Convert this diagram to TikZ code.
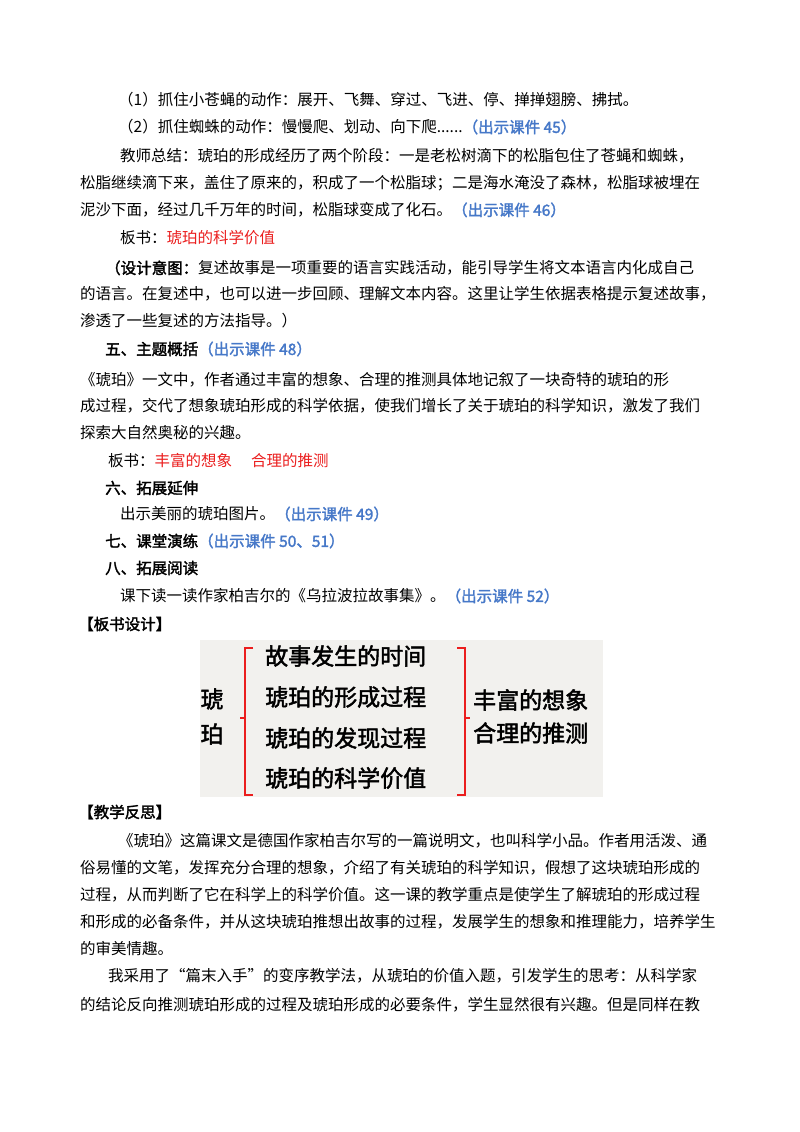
\documentclass[tikz,border=0pt]{standalone}
\usepackage{fontspec}
\setmainfont{Liberation Serif}
\newfontfamily\cjk{Noto Sans CJK SC}
\newfontfamily\cjkb[FakeBold=2]{Noto Sans CJK SC}
\definecolor{bl}{RGB}{70,120,200}
\definecolor{rd}{RGB}{235,30,30}
\definecolor{bg}{RGB}{242,241,238}
\newcommand{\kj}[1]{\textcolor{bl}{\cjkb #1}}
\begin{document}
\begin{tikzpicture}[x=1pt,y=-1pt,
  t/.style={anchor=west,inner sep=0pt,font=\cjk\fontsize{15.5}{16}\selectfont},
  bd/.style={anchor=center,inner sep=0pt,font=\cjkb\fontsize{23}{24}\selectfont},
  br/.style={draw=rd,line width=1.3pt}]
\useasboundingbox[fill=white] (0,0) rectangle (800,1132);
\node[t] (l1) at (118,100) {（1）抓住小苍蝇的动作：展开、飞舞、穿过、飞进、停、掸掸翅膀、拂拭。};
\node[t] (l2) at (118,127) {（2）抓住蜘蛛的动作：慢慢爬、划动、向下爬......\kj{（出示课件 45）}};
\node[t] (l3) at (120,156) {教师总结：琥珀的形成经历了两个阶段：一是老松树滴下的松脂包住了苍蝇和蜘蛛，};
\node[t] (l4) at (80,183) {松脂继续滴下来，盖住了原来的，积成了一个松脂球；二是海水淹没了森林，松脂球被埋在};
\node[t] (l5) at (80,210) {泥沙下面，经过几千万年的时间，松脂球变成了化石。\kj{（出示课件 46）}};
\node[t] (l6) at (120,238) {板书：\textcolor{rd}{琥珀的科学价值}};
\node[t] (l7) at (105,268) {{\cjkb （设计意图：}复述故事是一项重要的语言实践活动，能引导学生将文本语言内化成自己};
\node[t] (l8) at (80,294) {的语言。在复述中，也可以进一步回顾、理解文本内容。这里让学生依据表格提示复述故事，};
\node[t] (l9) at (80,321) {渗透了一些复述的方法指导。）};
\node[t] (l10) at (105,349) {{\cjkb 五、主题概括}\kj{（出示课件 48）}};
\node[t] (l11) at (80,380) {《琥珀》一文中，作者通过丰富的想象、合理的推测具体地记叙了一块奇特的琥珀的形};
\node[t] (l12) at (80,406) {成过程，交代了想象琥珀形成的科学依据，使我们增长了关于琥珀的科学知识，激发了我们};
\node[t] (l13) at (80,433) {探索大自然奥秘的兴趣。};
\node[t] (l14) at (108,461) {板书：\textcolor{rd}{丰富的想象\quad\ 合理的推测}};
\node[t] (l15) at (105,488) {{\cjkb 六、拓展延伸}};
\node[t] (l16) at (120,514) {出示美丽的琥珀图片。\kj{（出示课件 49）}};
\node[t] (l17) at (105,541) {{\cjkb 七、课堂演练}\kj{（出示课件 50、51）}};
\node[t] (l18) at (105,568) {{\cjkb 八、拓展阅读}};
\node[t] (l19) at (120,596) {课下读一读作家柏吉尔的《乌拉波拉故事集》。\kj{（出示课件 52）}};
\node[t] (l20) at (78,624) {{\cjkb 【板书设计】}};
% board
\fill[bg] (200,640) rectangle (603,797);
\node[bd] (h1) at (212,699) {琥};
\node[bd] (h2) at (212,734) {珀};
\draw[br] (253,648) -- (245,648) -- (245,795) -- (253,795);
\draw[br] (245,718) -- (240,718);
\node[bd,anchor=west] (b1) at (265,656) {故事发生的时间};
\node[bd,anchor=west] (b2) at (265,697) {琥珀的形成过程};
\node[bd,anchor=west] (b3) at (265,738) {琥珀的发现过程};
\node[bd,anchor=west] (b4) at (265,778) {琥珀的科学价值};
\draw[br] (457,648) -- (465,648) -- (465,795) -- (457,795);
\draw[br] (465,718) -- (470,718);
\node[bd,anchor=west] (r1) at (473,700) {丰富的想象};
\node[bd,anchor=west] (r2) at (473,733) {合理的推测};
\node[t] (l21) at (78,812) {{\cjkb 【教学反思】}};
\node[t] (l22) at (118,841) {《琥珀》这篇课文是德国作家柏吉尔写的一篇说明文，也叫科学小品。作者用活泼、通};
\node[t] (l23) at (80,868) {俗易懂的文笔，发挥充分合理的想象，介绍了有关琥珀的科学知识，假想了这块琥珀形成的};
\node[t] (l24) at (80,895) {过程，从而判断了它在科学上的科学价值。这一课的教学重点是使学生了解琥珀的形成过程};
\node[t] (l25) at (80,922) {和形成的必备条件，并从这块琥珀推想出故事的过程，发展学生的想象和推理能力，培养学生};
\node[t] (l26) at (80,949) {的审美情趣。};
\node[t] (l27) at (108,976) {我采用了“篇末入手”的变序教学法，从琥珀的价值入题，引发学生的思考：从科学家};
\node[t] (l28) at (80,1005) {的结论反向推测琥珀形成的过程及琥珀形成的必要条件，学生显然很有兴趣。但是同样在教};
\end{tikzpicture}
\end{document}
